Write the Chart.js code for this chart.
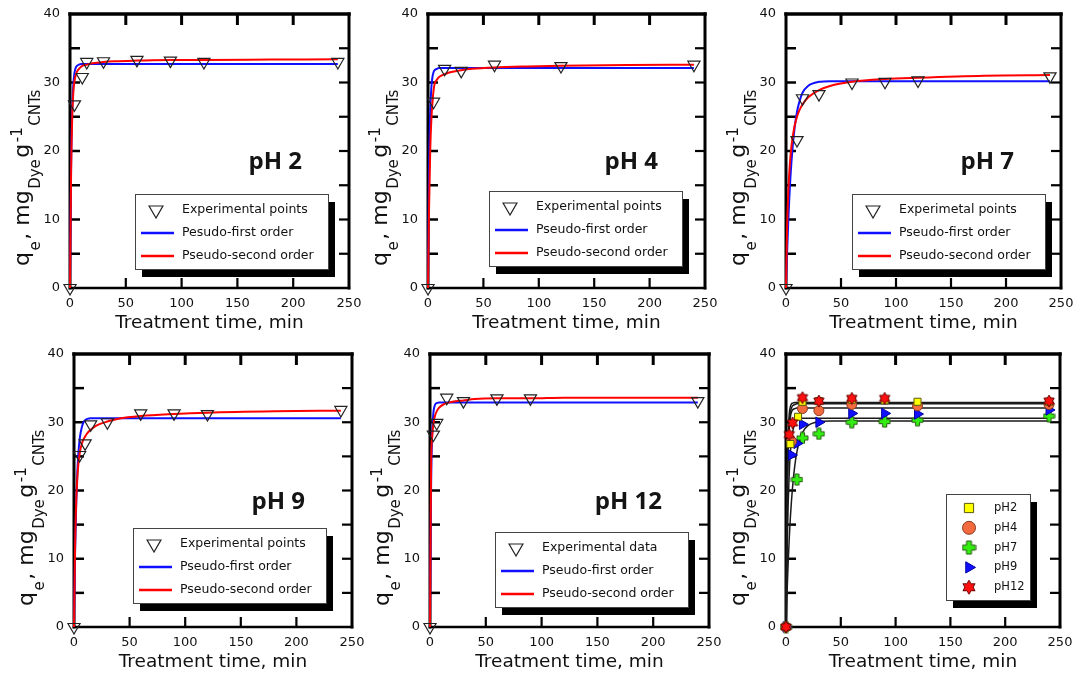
<!DOCTYPE html>
<html><head><meta charset="utf-8">
<script src="https://cdn.jsdelivr.net/npm/chart.js"></script>
<style>
html,body{margin:0;padding:0;background:#fff;width:1078px;height:682px;overflow:hidden;position:relative}
canvas{position:absolute}
</style></head><body>
<canvas id="c1"></canvas><canvas id="c2"></canvas><canvas id="c3"></canvas>
<canvas id="c4"></canvas><canvas id="c5"></canvas><canvas id="c6"></canvas>
<script>
// ---------------- data ----------------
const xTickValues = [0, 50, 100, 150, 200, 250];
const yTickValues = [0, 10, 20, 30, 40];
const xInnerTicks = [50, 100, 150, 200];
const yInnerTicks = [5, 10, 15, 20, 25, 30, 35];
const xTitle = 'Treatment time, min';
const yTitleParts = [['q','n'],['e','sub'],[', mg','n'],['Dye','sub'],['g','n'],['-1','sup'],['CNTs','sub']];

const curveTime = [0, 1, 2, 3, 4, 5, 6, 8, 10, 12, 15, 20, 30, 40, 60, 90, 120, 180, 240];
const pfoPH2  = [0, 18.0, 26.1, 29.7, 31.4, 32.1, 32.4, 32.6, 32.7, 32.7, 32.7, 32.7, 32.7, 32.7, 32.7, 32.7, 32.7, 32.7, 32.7];
const psoPH2  = [0, 17.0, 25.0, 28.6, 30.2, 31.0, 31.5, 32.0, 32.3, 32.5, 32.6, 32.8, 33.0, 33.1, 33.2, 33.3, 33.3, 33.35, 33.4];
const pfoPH4  = [0, 17.7, 25.6, 29.2, 30.8, 31.5, 31.8, 32.0, 32.1, 32.1, 32.1, 32.1, 32.1, 32.1, 32.1, 32.1, 32.1, 32.1, 32.1];
const psoPH4  = [0, 12.0, 20.0, 24.5, 27.0, 28.8, 29.8, 30.4, 30.8, 31.0, 31.2, 31.5, 31.8, 32.0, 32.2, 32.35, 32.45, 32.55, 32.6];
const pfoPH7  = [0, 5.2, 9.5, 13.1, 16.1, 18.5, 20.5, 23.6, 25.7, 27.1, 28.5, 29.5, 30.1, 30.2, 30.2, 30.2, 30.2, 30.2, 30.2];
const psoPH7  = [0, 8.8, 13.8, 16.9, 19.1, 20.8, 22.0, 23.8, 25.0, 25.9, 26.8, 27.8, 28.9, 29.5, 30.1, 30.5, 30.7, 31.0, 31.1];
const pfoPH9  = [0, 11.1, 18.1, 22.7, 25.6, 27.4, 28.5, 29.8, 30.3, 30.5, 30.6, 30.6, 30.6, 30.6, 30.6, 30.6, 30.6, 30.6, 30.6];
const psoPH9  = [0, 12.0, 18.5, 21.8, 24.0, 25.3, 26.2, 27.3, 27.9, 28.4, 28.9, 29.5, 30.1, 30.5, 30.9, 31.2, 31.4, 31.6, 31.7];
const pfoPH12 = [0, 20.8, 28.4, 31.3, 32.3, 32.7, 32.8, 32.9, 32.9, 32.9, 32.9, 32.9, 32.9, 32.9, 32.9, 32.9, 32.9, 32.9, 32.9];
const psoPH12 = [0, 23.9, 28.0, 29.7, 30.6, 31.2, 31.6, 32.1, 32.4, 32.6, 32.8, 33.0, 33.2, 33.4, 33.5, 33.5, 33.6, 33.6, 33.6];

const timePH2  = [0, 4, 11, 15, 30, 60, 90, 120, 240];
const expPH2   = [0, 26.8, 30.8, 33.0, 33.1, 33.3, 33.2, 33.0, 33.0];
const timePH4  = [0, 5, 15, 30, 60, 120, 240];
const expPH4   = [0, 27.2, 32.0, 31.7, 32.6, 32.4, 32.6];
const timePH7  = [0, 10, 15, 30, 60, 90, 120, 240];
const expPH7   = [0, 21.6, 27.7, 28.3, 30.0, 30.1, 30.3, 30.9];
const timePH9  = [0, 5, 10, 15, 30, 60, 90, 120, 240];
const expPH9   = [0, 25.2, 26.9, 29.7, 30.0, 31.3, 31.3, 31.2, 31.8];
const timePH12 = [0, 3, 6, 15, 30, 60, 90, 240];
const expPH12  = [0, 28.2, 29.9, 33.6, 33.1, 33.5, 33.5, 33.1];

const panelLabels = ['pH 2', 'pH 4', 'pH 7', 'pH 9', 'pH 12'];
const legendTexts = [
  ['Experimental points', 'Pesudo-first order', 'Pseudo-second order'],
  ['Experimental points', 'Pseudo-first order', 'Pseudo-second order'],
  ['Experimetal points', 'Pseudo-first order', 'Pseudo-second order'],
  ['Experimental points', 'Pseudo-first order', 'Pseudo-second order'],
  ['Experimental data', 'Pseudo-first order', 'Pseudo-second order']
];
const summaryLabels = ['pH2', 'pH4', 'pH7', 'pH9', 'pH12'];

// ---------------- helpers ----------------
const FONT = '"DejaVu Sans", "Liberation Sans", sans-serif';
Chart.defaults.font.family = FONT;
Chart.defaults.color = '#111';

function pts(xs, ys) { return xs.map((x, i) => ({x: x, y: ys[i]})); }

function makePlus(size) {
  const c = document.createElement('canvas');
  c.width = size + 2; c.height = size + 2;
  const g = c.getContext('2d');
  const m = (size + 2) / 2, h = size / 2, t = size * 0.19;
  g.beginPath();
  g.moveTo(m - t, m - h); g.lineTo(m + t, m - h); g.lineTo(m + t, m - t); g.lineTo(m + h, m - t);
  g.lineTo(m + h, m + t); g.lineTo(m + t, m + t); g.lineTo(m + t, m + h); g.lineTo(m - t, m + h);
  g.lineTo(m - t, m + t); g.lineTo(m - h, m + t); g.lineTo(m - h, m - t); g.lineTo(m - t, m - t);
  g.closePath();
  g.fillStyle = '#33ee11'; g.fill();
  g.strokeStyle = '#245a10'; g.lineWidth = 1; g.stroke();
  return c;
}
function makeStar(size) {
  const c = document.createElement('canvas');
  c.width = size + 2; c.height = size + 2;
  const g = c.getContext('2d');
  const m = (size + 2) / 2, r = size / 2;
  g.beginPath();
  for (let k = 0; k < 12; k++) {
    const ang = -Math.PI / 2 + k * Math.PI / 6;
    const rr = (k % 2 === 0) ? r : r * 0.577;
    const px = m + rr * Math.cos(ang), py = m + rr * Math.sin(ang);
    if (k === 0) g.moveTo(px, py); else g.lineTo(px, py);
  }
  g.closePath();
  g.fillStyle = '#ff1010'; g.fill();
  g.strokeStyle = '#6a0000'; g.lineWidth = 1; g.stroke();
  return c;
}
const plusData = makePlus(11), plusLeg = makePlus(13);
const starData = makeStar(12), starLeg = makeStar(14);

// ---------------- plugins ----------------
const framePlugin = {
  id: 'frame',
  beforeDatasetsDraw(chart) {
    const ctx = chart.ctx, a = chart.chartArea, xs = chart.scales.x, ys = chart.scales.y;
    ctx.save();
    ctx.strokeStyle = '#000';
    ctx.lineCap = 'square';
    const seg = (w, x1, y1, x2, y2) => { ctx.lineWidth = w; ctx.beginPath(); ctx.moveTo(x1, y1); ctx.lineTo(x2, y2); ctx.stroke(); };
    seg(3.5, a.left, a.top, a.right, a.top);
    seg(3, a.left, a.top, a.left, a.bottom);
    seg(3, a.right, a.top, a.right, a.bottom);
    seg(2.5, a.left, a.bottom, a.right, a.bottom);
    ctx.lineCap = 'butt';
    xInnerTicks.forEach(v => {
      const px = xs.getPixelForValue(v);
      seg(3, px, a.top, px, a.top + 11);
      seg(2.2, px, a.bottom, px, a.bottom - 10);
    });
    yInnerTicks.forEach(v => {
      const py = ys.getPixelForValue(v);
      seg(2.5, a.left, py, a.left + 10, py);
      seg(2.2, a.right, py, a.right - 10, py);
    });
    ctx.restore();
  }
};

const yTitlePlugin = {
  id: 'ytitle',
  afterDraw(chart) {
    const ctx = chart.ctx, a = chart.chartArea;
    const mainF = '22px ' + FONT, subF = '15px ' + FONT;
    ctx.save();
    ctx.fillStyle = '#111';
    const gap = 1.5;
    let total = 0;
    const ws = yTitleParts.map(p => {
      ctx.font = p[1] === 'n' ? mainF : subF;
      const w = ctx.measureText(p[0]).width;
      total += w + gap;
      return w;
    });
    const baseX = a.left - 41, cy = a.top + 163;
    ctx.translate(baseX, cy + total / 2);
    ctx.rotate(-Math.PI / 2);
    ctx.textBaseline = 'alphabetic';
    ctx.textAlign = 'left';
    let x = 0;
    yTitleParts.forEach((p, i) => {
      ctx.font = p[1] === 'n' ? mainF : subF;
      const dy = p[1] === 'sub' ? 11 : (p[1] === 'sup' ? -7 : 0);
      ctx.fillText(p[0], x, dy);
      x += ws[i] + gap;
    });
    ctx.restore();
  }
};

const labelPlugin = {
  id: 'phLabel',
  afterDraw(chart, args, o) {
    if (!o || !o.text) return;
    const ctx = chart.ctx, a = chart.chartArea;
    ctx.save();
    ctx.font = 'bold 24px "Open Sans", ' + FONT;
    ctx.fillStyle = '#141414';
    ctx.textAlign = 'right';
    ctx.textBaseline = 'middle';
    ctx.fillText(o.text, a.right - 47, a.top + 148);
    ctx.restore();
  }
};

const legendPlugin = {
  id: 'boxLegend',
  afterDatasetsDraw(chart, args, o) {
    if (!o || !o.w) return;
    const ctx = chart.ctx, a = chart.chartArea;
    const x = a.left + o.x, y = a.top + o.y;
    ctx.save();
    ctx.fillStyle = '#000';
    ctx.fillRect(x + 7, y + 8, o.w, o.h);
    ctx.fillStyle = '#fff';
    ctx.fillRect(x, y, o.w, o.h);
    ctx.strokeStyle = '#444'; ctx.lineWidth = 1;
    ctx.strokeRect(x + 0.5, y + 0.5, o.w, o.h);
    const items = chart.data.datasets.filter(d => d.legendRow !== undefined);
    items.forEach(d => {
      const ry = y + o.row0 + d.legendRow * o.rowStep;
      if (d.showLine) {
        ctx.strokeStyle = d.borderColor; ctx.lineWidth = 2.5;
        ctx.beginPath(); ctx.moveTo(x + o.lineX0, ry); ctx.lineTo(x + o.lineX1, ry); ctx.stroke();
      } else {
        ctx.fillStyle = d.backgroundColor; ctx.strokeStyle = d.borderColor;
        ctx.lineWidth = d.borderWidth;
        Chart.helpers.drawPoint(ctx, {
          pointStyle: d.legendStyle || d.pointStyle,
          radius: o.markR, rotation: d.rotation || 0, borderWidth: d.borderWidth
        }, x + o.markX, ry);
      }
      ctx.fillStyle = '#111';
      ctx.font = o.font;
      ctx.textAlign = 'left'; ctx.textBaseline = 'middle';
      ctx.fillText(d.label, x + o.textX, ry);
    });
    ctx.restore();
  }
};

// ---------------- chart factory ----------------
function makeChart(id, rect, area, datasets, pluginOpts) {
  const cv = document.getElementById(id);
  cv.width = rect.w; cv.height = rect.h;
  cv.style.left = rect.x + 'px'; cv.style.top = rect.y + 'px';
  cv.style.width = rect.w + 'px'; cv.style.height = rect.h + 'px';
  const yw = 45, xh = 46;
  return new Chart(cv, {
    type: 'scatter',
    data: {datasets: datasets},
    options: {
      responsive: false, animation: false, devicePixelRatio: 1,
      events: [],
      layout: {padding: {left: area.l - yw, top: area.t, right: rect.w - area.r, bottom: rect.h - area.b - xh}},
      scales: {
        x: {
          type: 'linear', min: 0, max: 250,
          afterBuildTicks: s => { s.ticks = xTickValues.map(v => ({value: v})); },
          afterFit: s => { s.height = xh; s.paddingLeft = 0; s.paddingRight = 0; },
          grid: {display: false, drawTicks: false}, border: {display: false},
          ticks: {padding: 8, font: {size: 13}, color: '#111', maxRotation: 0, autoSkip: false},
          title: {display: true, text: xTitle, font: {size: 18.5}, color: '#111', padding: {top: 0, bottom: 0}}
        },
        y: {
          type: 'linear', min: 0, max: 40,
          afterBuildTicks: s => { s.ticks = yTickValues.map(v => ({value: v})); },
          afterFit: s => { s.width = yw; s.paddingTop = 0; s.paddingBottom = 0; },
          grid: {display: false, drawTicks: false}, border: {display: false},
          ticks: {padding: 10, font: {size: 13}, color: '#111', autoSkip: false}
        }
      },
      plugins: Object.assign({legend: {display: false}, tooltip: {enabled: false}}, pluginOpts)
    },
    plugins: [framePlugin, legendPlugin, labelPlugin, yTitlePlugin]
  });
}

function lineDS(label, ys, color, row, order, width) {
  return {label: label, data: pts(curveTime, ys), showLine: true, borderColor: color, backgroundColor: color,
    borderWidth: width || 2, pointRadius: 0, cubicInterpolationMode: 'monotone', legendRow: row, order: order, clip: 4};
}
function triDS(label, xs, ys) {
  return {label: label, data: pts(xs, ys), showLine: false, pointStyle: 'triangle', rotation: 180,
    pointRadius: 7, borderColor: '#222', backgroundColor: 'rgba(255,255,255,0)', borderWidth: 1.2,
    legendRow: 0, order: 0, clip: false};
}
function legOpts(x, y) {
  return {x: x, y: y, w: 193, h: 75, row0: 16, rowStep: 23, lineX0: 6, lineX1: 39, markX: 21, markR: 8, textX: 47,
    font: '12.5px ' + FONT};
}

const BLUE = '#1010ff', RED = '#ff0000';
const panels = [
  {id: 'c1', rect: {x: 0, y: 0, w: 372, h: 340}, area: {l: 70, t: 14, r: 349, b: 288}, t: timePH2, e: expPH2, f: pfoPH2, s: psoPH2, leg: [65, 180]},
  {id: 'c2', rect: {x: 360, y: 0, w: 370, h: 340}, area: {l: 68, t: 14, r: 345, b: 288}, t: timePH4, e: expPH4, f: pfoPH4, s: psoPH4, leg: [61, 177]},
  {id: 'c3', rect: {x: 718, y: 0, w: 360, h: 340}, area: {l: 68, t: 14, r: 343, b: 288}, t: timePH7, e: expPH7, f: pfoPH7, s: psoPH7, leg: [66, 180]},
  {id: 'c4', rect: {x: 0, y: 340, w: 372, h: 342}, area: {l: 74, t: 14, r: 352, b: 287}, t: timePH9, e: expPH9, f: pfoPH9, s: psoPH9, leg: [59, 174]},
  {id: 'c5', rect: {x: 360, y: 340, w: 370, h: 342}, area: {l: 70, t: 14, r: 349, b: 287}, t: timePH12, e: expPH12, f: pfoPH12, s: psoPH12, leg: [65, 178]}
];
panels.forEach((p, i) => {
  const L = legendTexts[i];
  makeChart(p.id, p.rect, p.area, [
    triDS(L[0], p.t, p.e),
    lineDS(L[1], p.f, BLUE, 1, 2),
    lineDS(L[2], p.s, RED, 2, 1)
  ], {boxLegend: legOpts(p.leg[0], p.leg[1]), phLabel: {text: panelLabels[i]}});
});

// summary panel
function markDS(label, xs, ys, style, legStyle, bg, bd, radius, rot, row, order) {
  return {label: label, data: pts(xs, ys), showLine: false, pointStyle: style, legendStyle: legStyle, rotation: rot,
    pointRadius: radius, backgroundColor: bg, borderColor: bd, borderWidth: 1, legendRow: row, order: order, clip: false};
}
const K = '#1a1a1a';
makeChart('c6', {x: 718, y: 340, w: 360, h: 342}, {l: 68, t: 14, r: 342, b: 287}, [
  markDS(summaryLabels[4], timePH12, expPH12, starData, starLeg, '#ff1010', '#6a0000', 6, 0, 4, 0),
  markDS(summaryLabels[0], timePH2, expPH2, 'rect', 'rect', '#ffff00', '#5a5a10', 5, 0, 0, 1),
  markDS(summaryLabels[1], timePH4, expPH4, 'circle', 'circle', '#f26a3d', '#8a3a20', 5, 0, 1, 2),
  markDS(summaryLabels[3], timePH9, expPH9, 'triangle', 'triangle', '#1010ff', '#0000a0', 6, 90, 3, 3),
  markDS(summaryLabels[2], timePH7, expPH7, plusData, plusLeg, '#33ee11', '#245a10', 6, 0, 2, 4),
  lineDS(null, pfoPH2, K, undefined, 10, 1.5),
  lineDS(null, pfoPH4, K, undefined, 10, 1.5),
  lineDS(null, pfoPH7, K, undefined, 10, 1.5),
  lineDS(null, pfoPH9, K, undefined, 10, 1.5),
  lineDS(null, pfoPH12, K, undefined, 10, 1.5)
], {boxLegend: {x: 160, y: 140, w: 84, h: 106, row0: 14, rowStep: 19.8, markX: 23, markR: 6.5, textX: 48, font: '11.5px ' + FONT}});
</script>
</body></html>
